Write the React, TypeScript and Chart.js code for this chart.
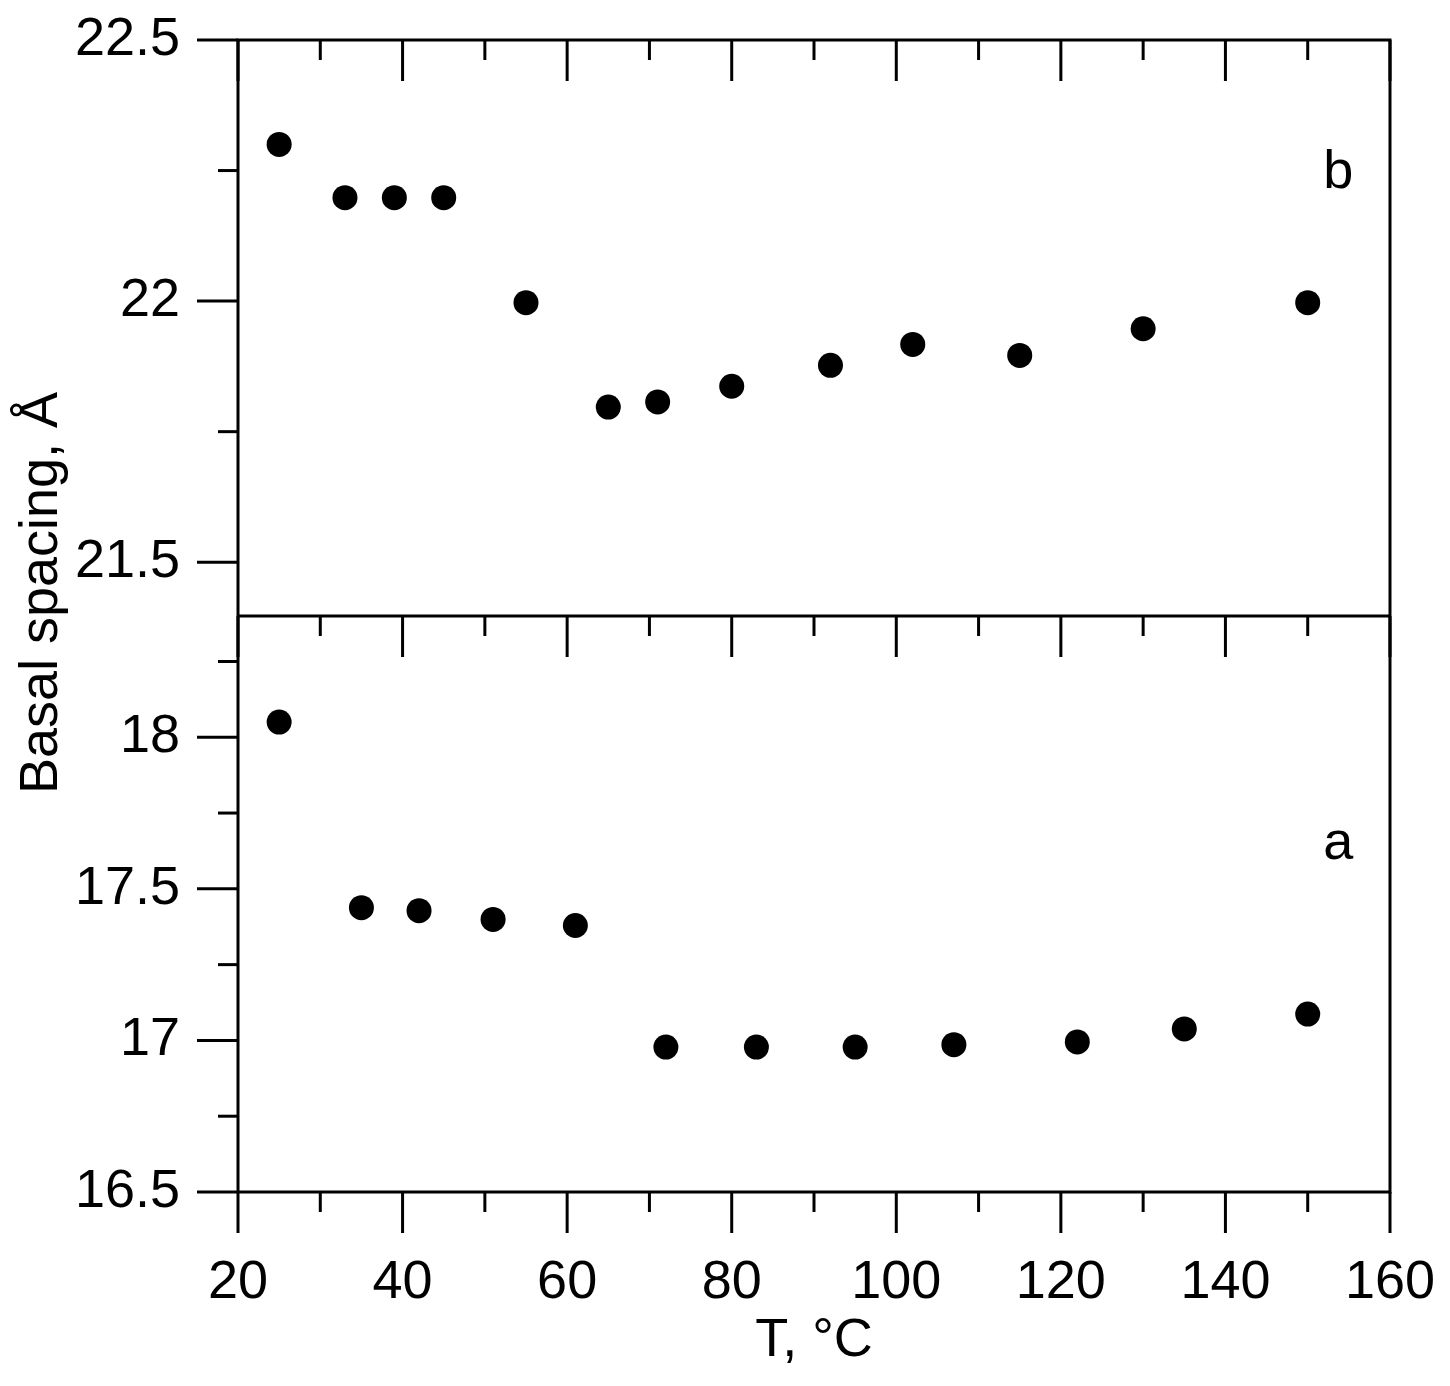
import React, { useEffect, useRef } from "react";
import { Chart, registerables } from "chart.js";

Chart.register(...registerables);

// ---- data ----
const tempB = [25, 33, 39, 45, 55, 65, 71, 80, 92, 102, 115, 130, 150];
const spacingB = [22.3, 22.198, 22.198, 22.198, 21.997, 21.797, 21.807, 21.837, 21.877, 21.917, 21.896, 21.947, 21.997];
const tempA = [25, 35, 42, 51, 61, 72, 83, 95, 107, 122, 135, 150];
const spacingA = [18.05, 17.438, 17.428, 17.399, 17.379, 16.978, 16.978, 16.978, 16.986, 16.995, 17.038, 17.087];

const xTickValues = [20, 40, 60, 80, 100, 120, 140, 160];
const yTopTickLabels = ["21.5", "22", "22.5"];
const yBotTickLabels = ["16.5", "17", "17.5", "18"];

const panelLetters = ["b", "a"];
const panelLetterT = [153.7, 153.7];
const panelLetterY = [22.217, 17.597];

const xTitle = "T, \u00B0C";
const yTitle = "Basal spacing, \u00C5";

const FONT = "'Liberation Sans', Arial, sans-serif";
const FS = 54;
const MAJOR = 41;
const MINOR = 20;

const framePlugin = {
  id: "frame",
  afterDraw(chart: any) {
    const { ctx, chartArea: ca, scales } = chart;
    const x = scales.x;
    const yB = scales.yB;
    const yA = scales.yA;
    ctx.save();
    ctx.strokeStyle = "#000";
    ctx.lineWidth = 3;
    ctx.lineCap = "butt";
    const line = (x1: number, y1: number, x2: number, y2: number) => {
      ctx.beginPath();
      ctx.moveTo(x1, y1);
      ctx.lineTo(x2, y2);
      ctx.stroke();
    };
    ctx.strokeRect(ca.left, ca.top, ca.right - ca.left, ca.bottom - ca.top);
    line(ca.left, yA.top, ca.right, yA.top);
    for (const t of x.ticks) {
      const px = x.getPixelForValue(t.value);
      const len = Math.abs(t.value % 20) < 1e-6 ? MAJOR : MINOR;
      line(px, ca.bottom, px, ca.bottom + len);
      line(px, ca.top, px, ca.top + len);
      line(px, yA.top, px, yA.top + len);
    }
    for (const s of [yB, yA]) {
      for (const t of s.ticks) {
        const py = s.getPixelForValue(t.value);
        const major = Math.abs(t.value * 2 - Math.round(t.value * 2)) < 1e-6;
        const len = major ? MAJOR : MINOR;
        line(ca.left - len, py, ca.left, py);
      }
    }
    // panel letters
    ctx.fillStyle = "#000";
    ctx.font = `${FS}px ${FONT}`;
    ctx.textAlign = "center";
    ctx.textBaseline = "alphabetic";
    const panelScales = [yB, yA];
    panelLetters.forEach((l, i) => {
      ctx.fillText(l, x.getPixelForValue(panelLetterT[i]), panelScales[i].getPixelForValue(panelLetterY[i]));
    });
    // y title
    ctx.save();
    ctx.translate(ca.left - 196, (ca.top + ca.bottom) / 2 - 23);
    ctx.rotate(-Math.PI / 2);
    ctx.textAlign = "center";
    ctx.textBaseline = "middle";
    ctx.fillText(yTitle, 0, 0);
    ctx.restore();
    ctx.restore();
  },
};

const isHalf = (v: number) => Math.abs(v * 2 - Math.round(v * 2)) < 1e-6;

const zeroPad = (s: any) => {
  s.paddingTop = 0;
  s.paddingBottom = 0;
  s.paddingLeft = 0;
  s.paddingRight = 0;
};

export default function App() {
  const ref = useRef<HTMLCanvasElement | null>(null);
  useEffect(() => {
    document.body.style.margin = "0";
    const canvas = ref.current;
    if (!canvas) return;
    const chart = new Chart(canvas, {
      type: "scatter",
      data: {
        datasets: [
          {
            label: "a",
            data: tempA.map((t, i) => ({ x: t, y: spacingA[i] })),
            xAxisID: "x",
            yAxisID: "yA",
            backgroundColor: "#000",
            borderWidth: 0,
            pointRadius: 12.5,
            showLine: false,
          },
          {
            label: "b",
            data: tempB.map((t, i) => ({ x: t, y: spacingB[i] })),
            xAxisID: "x",
            yAxisID: "yB",
            backgroundColor: "#000",
            borderWidth: 0,
            pointRadius: 12.5,
            showLine: false,
          },
        ],
      },
      options: {
        animation: false,
        responsive: true,
        maintainAspectRatio: false,
        layout: { padding: { top: 40, right: 60, left: 0, bottom: 0 } },
        plugins: { legend: { display: false }, tooltip: { enabled: false } },
        scales: {
          x: {
            type: "linear",
            position: "bottom",
            min: 20,
            max: 160,
            grid: { display: false, drawTicks: false },
            border: { display: false },
            ticks: {
              stepSize: 10,
              autoSkip: false,
              maxRotation: 0,
              padding: 59,
              color: "#000",
              font: { family: FONT, size: FS },
              callback: (v: any) => (xTickValues.includes(Number(v)) ? String(v) : ""),
            },
            title: {
              display: true,
              text: xTitle,
              color: "#000",
              font: { family: FONT, size: FS },
              padding: { top: 0, bottom: 12 },
            },
            afterFit: (s: any) => {
              s.height = 194;
              zeroPad(s);
            },
          },
          yA: {
            type: "linear",
            position: "left",
            stack: "panels",
            stackWeight: 1,
            min: 16.5,
            max: 18.4,
            grid: { display: false, drawTicks: false },
            border: { display: false },
            ticks: {
              stepSize: 0.25,
              includeBounds: false,
              autoSkip: false,
              padding: 58,
              color: "#000",
              font: { family: FONT, size: FS },
              callback: (v: any) => {
                const n = Number(v);
                if (!isHalf(n)) return "";
                const s = String(Math.round(n * 10) / 10);
                return yBotTickLabels.includes(s) ? s : "";
              },
            },
            afterFit: (s: any) => {
              s.width = 238;
              zeroPad(s);
            },
          },
          yB: {
            type: "linear",
            position: "left",
            stack: "panels",
            stackWeight: 1,
            min: 21.397,
            max: 22.5,
            grid: { display: false, drawTicks: false },
            border: { display: false },
            ticks: {
              stepSize: 0.25,
              includeBounds: false,
              autoSkip: false,
              padding: 58,
              color: "#000",
              font: { family: FONT, size: FS },
              callback: (v: any) => {
                const n = Number(v);
                if (!isHalf(n)) return "";
                const s = String(Math.round(n * 10) / 10);
                return yTopTickLabels.includes(s) ? s : "";
              },
            },
            afterFit: (s: any) => {
              s.width = 238;
              zeroPad(s);
            },
          },
        },
      } as any,
      plugins: [framePlugin],
    });
    return () => chart.destroy();
  }, []);
  return (
    <div style={{ position: "relative", width: "1450px", height: "1386px", background: "#fff" }}>
      <canvas ref={ref} />
    </div>
  );
}
